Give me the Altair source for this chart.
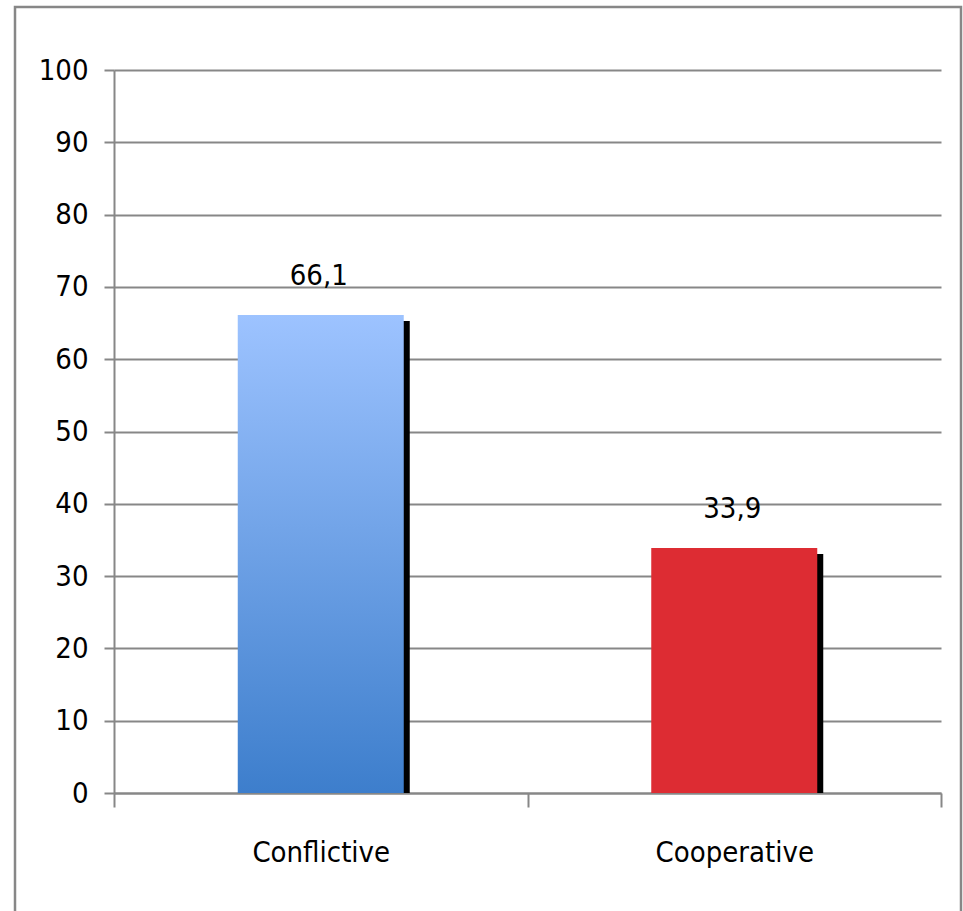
import altair as alt
import pandas as pd

categories = ["Conflictive", "Cooperative"]
values = [66.1, 33.9]
labels = ["66,1", "33,9"]
y_ticks = [0, 10, 20, 30, 40, 50, 60, 70, 80, 90, 100]

df = pd.DataFrame({"cat": categories, "val": values, "lab": labels})

FONT = "DejaVu Sans Condensed"
GRAY = "#878787"
FS = 29

W, H = 827, 723
PAD_L, PAD_T = 114, 70

x_enc = alt.X("cat:N", sort=categories,
              scale=alt.Scale(paddingInner=0, paddingOuter=0),
              axis=alt.Axis(title=None, labelAngle=0, tickBand="extent",
                            tickSize=14, tickColor=GRAY, tickWidth=2,
                            domainColor=GRAY, domainWidth=2, grid=False,
                            labelFont=FONT, labelFontSize=FS, labelColor="black",
                            labelPadding=31))
y_enc = alt.Y("val:Q", stack=None, scale=alt.Scale(domain=[0, 100], nice=False),
              axis=alt.Axis(title=None, values=y_ticks, tickSize=10, tickColor=GRAY,
                            tickWidth=2, domainColor=GRAY, domainWidth=2,
                            grid=True, gridColor=GRAY, gridWidth=2,
                            labelFont=FONT, labelFontSize=FS, labelColor="black",
                            labelPadding=16))

base = alt.Chart(df)

shadow = base.mark_bar(size=166, color="black", xOffset=6, x2Offset=6,
                       yOffset=6, y2Offset=0).encode(x=x_enc, y=y_enc,
                                                     y2=alt.Y2Datum(0))

blue_grad = alt.Gradient(gradient="linear", x1=0, x2=0, y1=0, y2=1,
                         stops=[alt.GradientStop(color="#9DC3FF", offset=0),
                                alt.GradientStop(color="#3D7ECC", offset=1)])

bar_blue = base.transform_filter(alt.datum.cat == categories[0]).mark_bar(
    size=166, color=blue_grad).encode(x=x_enc, y=y_enc)
bar_red = base.transform_filter(alt.datum.cat == categories[1]).mark_bar(
    size=166, color="#DD2C33").encode(x=x_enc, y=y_enc)

text = base.mark_text(font=FONT, fontSize=FS, color="black", baseline="middle",
                      dy=-39, dx=-2).encode(x=x_enc, y=y_enc, text="lab:N")

frame = alt.Chart(pd.DataFrame({"a": [0]})).mark_rect(
    fill=None, stroke=GRAY, strokeWidth=2.5, clip=False).encode(
    x=alt.value(15 - PAD_L), x2=alt.value(961 - PAD_L),
    y=alt.value(7 - PAD_T), y2=alt.value(930 - PAD_T))

chart = alt.layer(frame, shadow, bar_blue, bar_red, text).properties(
    width=W, height=H,
    autosize=alt.AutoSizeParams(type="none"),
    padding={"left": PAD_L, "top": PAD_T, "right": 963 - PAD_L - W, "bottom": 911 - PAD_T - H},
    background="white",
).configure_view(stroke=None)

chart.save("out.html", embed_options={"renderer": "svg", "actions": False})
